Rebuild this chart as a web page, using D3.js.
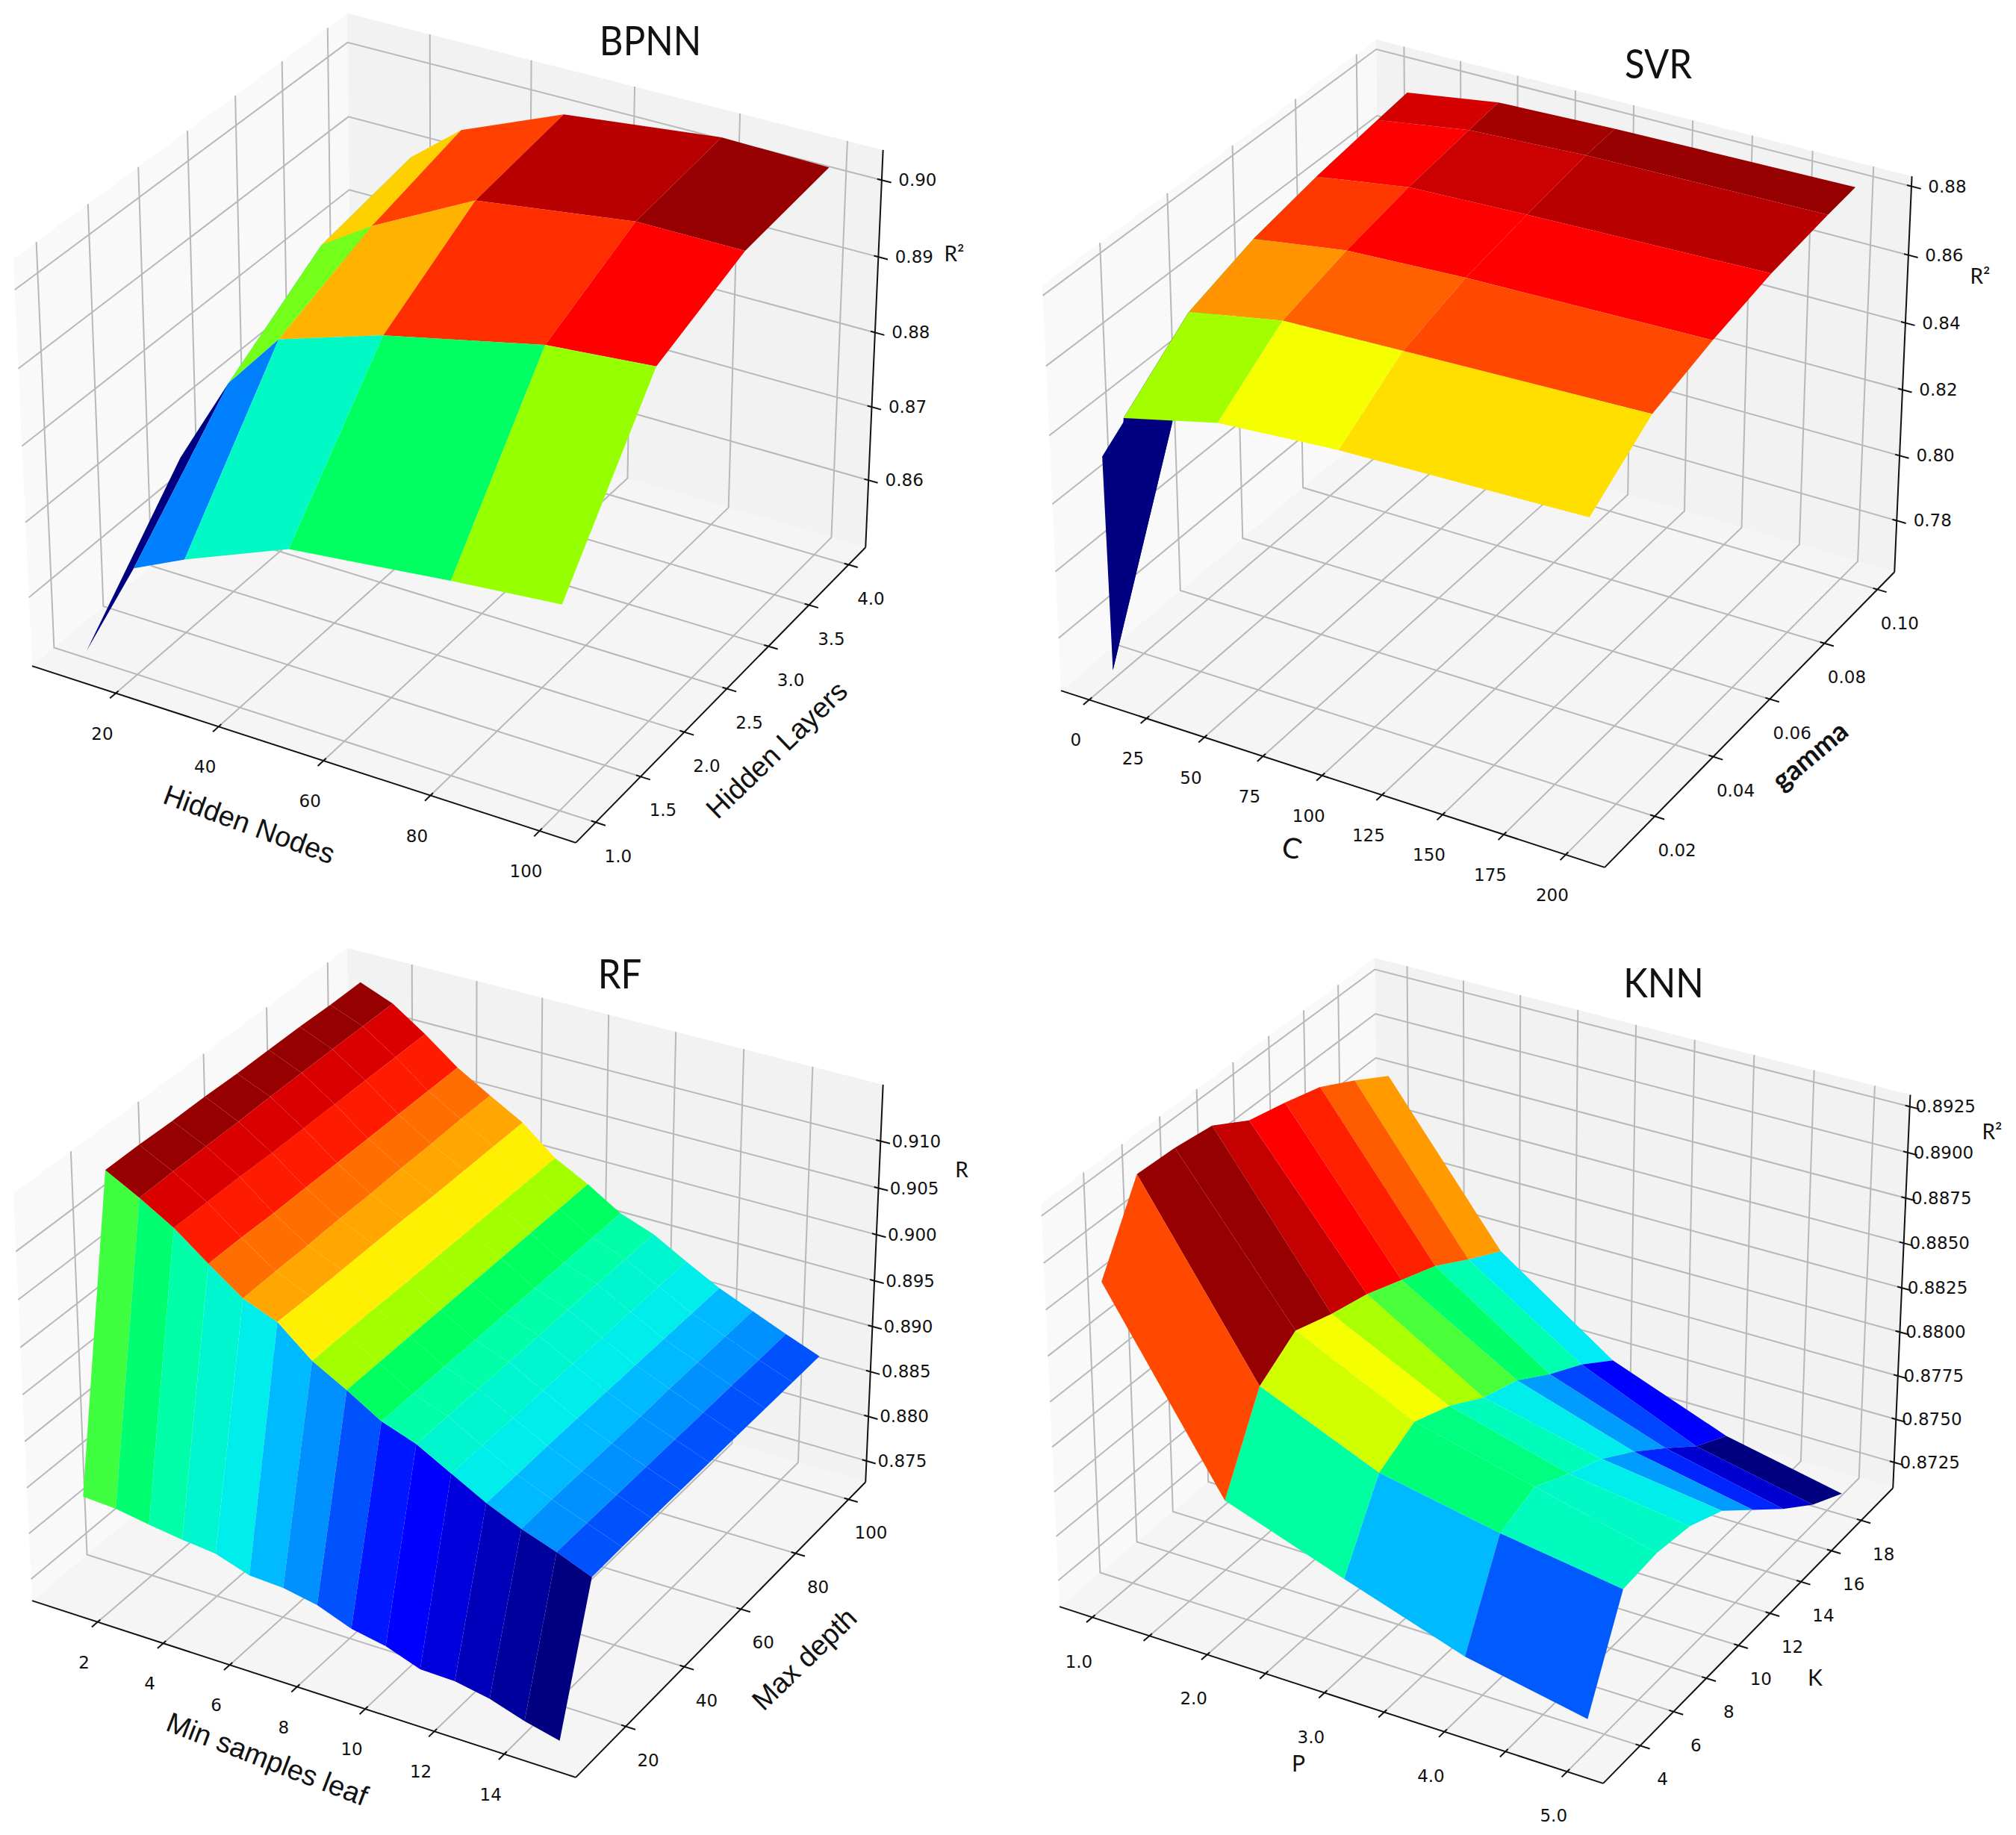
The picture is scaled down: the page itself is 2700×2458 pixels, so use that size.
<!DOCTYPE html>
<html>
<head>
<meta charset="utf-8">
<script src="https://cdn.jsdelivr.net/npm/d3@7"></script>
<style>
  body { margin: 0; background: #fff; }
  text { fill: #111; }
</style>
</head>
<body>
<div id="chart"></div>
<script>
// BPNN
const bpnnX = [10, 20, 30, 50, 80, 100];
const bpnnY = [1, 2, 3, 4];
const bpnnZ = [
  [0.8517, 0.865, 0.8683, 0.8739, 0.8762, 0.8775],
  [0.8669, 0.8789, 0.8866, 0.891, 0.8956, 0.8968],
  [0.8751, 0.8872, 0.8916, 0.8986, 0.9014, 0.9014],
  [0.8758, 0.8895, 0.8949, 0.9005, 0.9028, 0.9025]
];
const bpnnLevels = [
  [0, 0.25, 0.4, 0.47, 0.55],
  [0.3, 0.53, 0.71, 0.84, 0.89],
  [0.35, 0.685, 0.82, 0.96, 1]
];
const bpnnXTicks = [20, 40, 60, 80, 100];
const bpnnYTicks = [1, 1.5, 2, 2.5, 3, 3.5, 4];
const bpnnZTicks = [0.86, 0.87, 0.88, 0.89, 0.9];

// SVR
const svrX = [0.1, 1, 10, 50, 100, 200];
const svrY = [0.01, 0.03, 0.05, 0.07, 0.09, 0.1];
const svrZ = [
  [0.8313, 0.7676, 0.8445, 0.8512, 0.8536, 0.8554],
  [0.8468, 0.8253, 0.8601, 0.8653, 0.8664, 0.8685],
  [0.8527, 0.854, 0.8668, 0.8709, 0.8725, 0.874],
  [0.8585, 0.8595, 0.8709, 0.8751, 0.8763, 0.8782],
  [0.8618, 0.8628, 0.8739, 0.878, 0.8796, 0.8806],
  [0.8635, 0.8644, 0.8753, 0.8794, 0.8805, 0.8815]
];
const svrLevels = [
  [0, 0, 0.56, 0.63, 0.67],
  [0.38, 0.38, 0.735, 0.785, 0.81],
  [0.38, 0.38, 0.83, 0.89, 0.89],
  [0.38, 0.38, 0.89, 0.94, 0.96],
  [0.38, 0.38, 0.93, 0.985, 1]
];
const svrXTicks = [0, 25, 50, 75, 100, 125, 150, 175, 200];
const svrYTicks = [0.02, 0.04, 0.06, 0.08, 0.1];
const svrZTicks = [0.78, 0.8, 0.82, 0.84, 0.86, 0.88];

// RF
const rfX = [1, 2, 3, 4, 5, 6, 7, 8, 9, 10, 11, 12, 13, 14, 15];
const rfY = [10, 20, 30, 40, 50, 60, 70, 80, 90, 100];
const rfZ = [
  [0.8832, 0.883, 0.8824, 0.8819, 0.8815, 0.8803, 0.8801, 0.8794, 0.878, 0.8773, 0.876, 0.8759, 0.8752, 0.874, 0.8731],
  [0.915, 0.9131, 0.911, 0.9083, 0.9057, 0.9043, 0.9013, 0.8993, 0.8971, 0.8958, 0.8938, 0.8918, 0.8902, 0.8889, 0.8874],
  [0.915, 0.9132, 0.911, 0.9083, 0.9058, 0.9042, 0.9013, 0.8993, 0.8971, 0.8958, 0.8938, 0.8918, 0.8903, 0.8889, 0.8875],
  [0.9149, 0.9132, 0.911, 0.9082, 0.9058, 0.9042, 0.9013, 0.8993, 0.8971, 0.8958, 0.8938, 0.8919, 0.8903, 0.8889, 0.8875],
  [0.9149, 0.9132, 0.9109, 0.9082, 0.9059, 0.9042, 0.9012, 0.8993, 0.8971, 0.8958, 0.8938, 0.8919, 0.8903, 0.8889, 0.8875],
  [0.9148, 0.9133, 0.9109, 0.9082, 0.9059, 0.9042, 0.9012, 0.8993, 0.8971, 0.8958, 0.8938, 0.8919, 0.8903, 0.8889, 0.8875],
  [0.9148, 0.9133, 0.9109, 0.9082, 0.906, 0.9041, 0.9012, 0.8993, 0.8971, 0.8958, 0.8938, 0.8919, 0.8904, 0.8889, 0.8875],
  [0.9148, 0.9133, 0.9109, 0.9082, 0.906, 0.9041, 0.9012, 0.8993, 0.8971, 0.8958, 0.8938, 0.8919, 0.8904, 0.8889, 0.8875],
  [0.9147, 0.9133, 0.9109, 0.9082, 0.9061, 0.9041, 0.9012, 0.8993, 0.8971, 0.8958, 0.8938, 0.8919, 0.8904, 0.8889, 0.8875],
  [0.9147, 0.9133, 0.9109, 0.9082, 0.9061, 0.9041, 0.9012, 0.8993, 0.8971, 0.8958, 0.8938, 0.8919, 0.8904, 0.8889, 0.8875]
];
const rfFrontLevels = [0.5, 0.46, 0.425, 0.39, 0.36, 0.3, 0.265, 0.2, 0.135, 0.11, 0.08, 0.05, 0.025, 0];
const rfBandLevels = [1, 0.925, 0.86, 0.77, 0.72, 0.655, 0.56, 0.47, 0.425, 0.39, 0.36, 0.3, 0.265, 0.2];
const rfLevels = [rfFrontLevels].concat(d3.range(8).map(() => rfBandLevels));
const rfXTicks = [2, 4, 6, 8, 10, 12, 14];
const rfYTicks = [20, 40, 60, 80, 100];
const rfZTicks = [0.875, 0.88, 0.885, 0.89, 0.895, 0.9, 0.905, 0.91];

// KNN
const knnX = [1, 2, 3, 4, 5];
const knnY = [3, 5, 7, 9, 11, 13, 15, 17, 19];
const knnZ = [
  [0.8886, 0.8786, 0.8763, 0.8741, 0.8728],
  [0.8928, 0.8832, 0.8804, 0.8791, 0.8781],
  [0.8927, 0.8846, 0.8815, 0.8799, 0.8783],
  [0.8924, 0.8839, 0.8807, 0.8789, 0.878],
  [0.8912, 0.8834, 0.8795, 0.878, 0.8771],
  [0.8907, 0.8826, 0.8788, 0.8767, 0.8754],
  [0.8901, 0.8818, 0.8775, 0.8752, 0.8737],
  [0.889, 0.8806, 0.8764, 0.8736, 0.8722],
  [0.8878, 0.8795, 0.875, 0.8725, 0.8711]
];
const knnLevels = [
  [0.81, 0.43, 0.3, 0.21],
  [1, 0.595, 0.455, 0.405],
  [1, 0.63, 0.45, 0.4],
  [0.945, 0.565, 0.41, 0.36],
  [0.89, 0.505, 0.36, 0.275],
  [0.855, 0.465, 0.275, 0.15],
  [0.79, 0.42, 0.185, 0.07],
  [0.73, 0.35, 0.11, 0]
];
const knnXTicks = [1, 1.5, 2, 2.5, 3, 3.5, 4, 4.5, 5];
const knnYTicks = [4, 6, 8, 10, 12, 14, 16, 18];
const knnZTicks = [0.8725, 0.875, 0.8775, 0.88, 0.8825, 0.885, 0.8875, 0.89, 0.8925];

const width = 2700,
  height = 2458;

// jet as it looks in the picture, the greens are more saturated than matplotlib's
const jetStops = [0, 0.11, 0.25, 0.34, 0.42, 0.47, 0.5, 0.55, 0.6, 0.64, 0.7, 0.75, 0.82, 0.89, 0.95, 1];
const jetColors = ["#000080", "#0000ff", "#0080ff", "#00e8ff", "#00ffb0", "#00ff60", "#40ff40", "#96ff00", "#d8ff00", "#ffff00", "#ffc000", "#ff8000", "#ff4000", "#ff0000", "#c00000", "#960000"];
const jet = d3.scaleLinear().domain(jetStops).range(jetColors);

const panels = [
  {
    title: "BPNN", titlePos: [871, 55], ox: 611, oy: 546, paneTop: 0.994, xLabelDy: 54,
    xs: bpnnX, ys: bpnnY, zs: bpnnZ, levels: bpnnLevels,
    xPane: [3.44, 106.56], yPane: [0.781, 4.219], zPane: [0.8507, 0.9042],
    xTicks: bpnnXTicks, yTicks: bpnnYTicks, zTicks: bpnnZTicks,
    xFmt: d3.format("d"), yFmt: d3.format(".1f"), zFmt: d3.format(".2f"),
    labels: [
      { text: "Hidden Nodes", pos: [334, 1104], rot: 20, size: 38, font: "Liberation Sans" },
      { text: "Hidden Layers", pos: [1040, 1004], rot: -44, size: 38, font: "Liberation Sans" },
      { text: "R²", pos: [1278, 340], rot: 0, size: 28, font: "Lato" }
    ]
  },
  {
    title: "SVR", titlePos: [2221, 86], ox: 1989, oy: 579, paneTop: 0.99, xLabelDy: 54,
    xs: svrX, ys: svrY, zs: svrZ, levels: svrLevels,
    xPane: [-12.4, 215.6], yPane: [0.0034, 0.1066], zPane: [0.764, 0.8841],
    xTicks: svrXTicks, yTicks: svrYTicks, zTicks: svrZTicks,
    xFmt: d3.format("d"), yFmt: d3.format(".2f"), zFmt: d3.format(".2f"),
    labels: [
      { text: "C", pos: [1730, 1136], rot: 15, size: 38, font: "Lato" },
      { text: "gamma", pos: [2424, 1012], rot: -40, size: 37, font: "Lato", weight: 700 },
      { text: "R²", pos: [2652, 370], rot: 0, size: 28, font: "Lato" }
    ]
  },
  {
    title: "RF", titlePos: [830, 1305], ox: 611, oy: 1798, paneTop: 0.994, xLabelDy: 54,
    xs: rfX, ys: rfY, zs: rfZ, levels: rfLevels,
    xPane: [-0.02, 16.02], yPane: [3.44, 106.56], zPane: [0.8726, 0.9162],
    xTicks: rfXTicks, yTicks: rfYTicks, zTicks: rfZTicks,
    xFmt: d3.format("d"), yFmt: d3.format("d"), zFmt: d3.format(".3f"),
    labels: [
      { text: "Min samples leaf", pos: [358, 2356], rot: 21, size: 38, font: "Liberation Sans" },
      { text: "Max depth", pos: [1077, 2222], rot: -44, size: 38, font: "Liberation Sans" },
      { text: "R", pos: [1288, 1567], rot: 0, size: 28, font: "Lato" }
    ]
  },
  {
    title: "KNN", titlePos: [2228, 1317], ox: 1987, oy: 1806, paneTop: 0.984, xLabelDy: 59,
    xs: knnX, ys: knnY, zs: knnZ, levels: knnLevels,
    xPane: [0.71, 5.29], yPane: [1.83, 20.17], zPane: [0.871, 0.8935],
    xTicks: knnXTicks, yTicks: knnYTicks, zTicks: knnZTicks,
    xFmt: d => (d % 1 === 0 ? d3.format(".1f")(d) : ""), yFmt: d3.format("d"), zFmt: d3.format(".4f"),
    labels: [
      { text: "P", pos: [1739, 2362], rot: 0, size: 30, font: "Lato" },
      { text: "K", pos: [2431, 2247], rot: 0, size: 30, font: "Lato" },
      { text: "R²", pos: [2668, 1516], rot: 0, size: 28, font: "Lato" }
    ]
  }
];

// mplot3d camera: elev 30, azim -60, box aspect 4:4:3, dist 10
const box = [1.1429, 1.1429, 0.8571],
  dist = 10,
  scale3d = 7301;
const U = [0.866, 0.5, 0],
  V = [-0.25, 0.433, 0.866],
  N = [0.433, -0.75, 0.5];
let dot = (a, p) => a[0] * p[0] + a[1] * p[1] + a[2] * p[2];

let svg = d3
  .select("#chart")
  .append("svg")
  .attr("width", width)
  .attr("height", height)
  .style("display", "block");

panels.forEach(panel => {
  let x = d3.scaleLinear().domain(panel.xPane).range([0, 1]);
  let y = d3.scaleLinear().domain(panel.yPane).range([0, 1]);
  let z = d3.scaleLinear().domain(panel.zPane).range([0, 1]);
  let top = panel.paneTop;

  // f is a point in the unit box
  let depth = f => dist - dot(N, f.map((v, i) => (v - 0.5) * box[i]));
  let project = f => {
    let p = f.map((v, i) => (v - 0.5) * box[i]);
    let w = dist - dot(N, p);
    return [panel.ox + (scale3d * dot(U, p)) / w, panel.oy - (scale3d * dot(V, p)) / w];
  };

  let g = svg.append("g").attr("class", panel.title);
  let path = pts => "M" + pts.map(f => project(f).join(",")).join("L");
  let line = (pts, stroke, w) =>
    g.append("path")
      .attr("d", path(pts))
      .attr("fill", "none")
      .attr("stroke", stroke)
      .attr("stroke-width", w);

  // panes
  [
    { fill: "#f9f9f9", pts: [[0, 0, 0], [0, 1, 0], [0, 1, top], [0, 0, top]] },
    { fill: "#f2f2f2", pts: [[0, 1, 0], [1, 1, 0], [1, 1, top], [0, 1, top]] },
    { fill: "#f5f5f5", pts: [[0, 0, 0], [1, 0, 0], [1, 1, 0], [0, 1, 0]] }
  ].forEach(pane => {
    g.append("path").attr("d", path(pane.pts) + "Z").attr("fill", pane.fill);
  });

  // grid
  panel.xTicks.forEach(t => {
    line([[x(t), 0, 0], [x(t), 1, 0], [x(t), 1, top]], "#b8b8b8", 2);
  });
  panel.yTicks.forEach(t => {
    line([[1, y(t), 0], [0, y(t), 0], [0, y(t), top]], "#b8b8b8", 2);
  });
  panel.zTicks.forEach(t => {
    line([[0, 0, z(t)], [0, 1, z(t)], [1, 1, z(t)]], "#b8b8b8", 2);
  });

  // axis lines
  line([[0, 0, 0], [1, 0, 0]], "#111", 2);
  line([[1, 0, 0], [1, 1, 0]], "#111", 2);
  line([[1, 1, 0], [1, 1, top]], "#111", 2);

  let tickLabel = (pt, dx, dy, text) =>
    g.append("text")
      .attr("x", pt[0] + dx)
      .attr("y", pt[1] + dy)
      .attr("dy", "0.35em")
      .attr("text-anchor", "middle")
      .attr("font-family", "DejaVu Sans")
      .attr("font-size", 23)
      .text(text);

  panel.xTicks.forEach(t => {
    line([[x(t), 0.008, 0], [x(t), -0.017, 0]], "#111", 2);
    tickLabel(project([x(t), 0, 0]), -18, panel.xLabelDy, panel.xFmt(t));
  });
  panel.yTicks.forEach(t => {
    line([[0.992, y(t), 0], [1.017, y(t), 0]], "#111", 2);
    tickLabel(project([1, y(t), 0]), 30, 45, panel.yFmt(t));
  });
  panel.zTicks.forEach(t => {
    line([[0.992, 1, z(t)], [1.017, 1, z(t)]], "#111", 2);
    tickLabel(project([1, 1, z(t)]), 48, 0, panel.zFmt(t));
  });

  // surface cells, far ones first like the average zsort
  let cells = [];
  panel.levels.forEach((row, j) => {
    row.forEach((level, i) => {
      let f = [[i, j], [i + 1, j], [i + 1, j + 1], [i, j + 1]].map(c => [
        x(panel.xs[c[0]]),
        y(panel.ys[c[1]]),
        z(panel.zs[c[1]][c[0]])
      ]);
      cells.push({ f: f, level: level, w: d3.mean(f, depth) });
    });
  });
  cells.sort((a, b) => b.w - a.w);

  g.append("g")
    .selectAll("path")
    .data(cells)
    .join("path")
    .attr("d", d => path(d.f) + "Z")
    .attr("fill", d => jet(d.level));

  // titles
  panel.labels.forEach(l => {
    g.append("text")
      .attr("transform", `translate(${l.pos[0]}, ${l.pos[1]}) rotate(${l.rot})`)
      .attr("dy", "0.35em")
      .attr("text-anchor", "middle")
      .attr("font-family", l.font)
      .attr("font-weight", l.weight || 400)
      .attr("font-size", l.size)
      .text(l.text);
  });

  // the original title face is narrower than Lato
  g.append("text")
    .attr("transform", `translate(${panel.titlePos[0]}, ${panel.titlePos[1]}) scale(0.91, 1)`)
    .attr("dy", "0.35em")
    .attr("text-anchor", "middle")
    .attr("font-family", "Lato")
    .attr("font-size", 54)
    .text(panel.title);
});
</script>
</body>
</html>
